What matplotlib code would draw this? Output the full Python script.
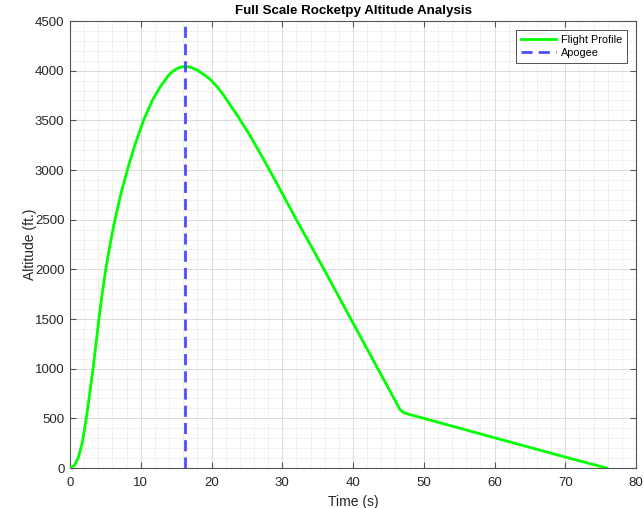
import matplotlib
matplotlib.use("Agg")
import matplotlib.pyplot as plt
from matplotlib.ticker import MultipleLocator

plt.rcParams["font.family"] = ["Liberation Sans", "DejaVu Sans"]

# flight profile (boost/coast, drogue, main)
time_s = [0, 0.6, 1.16, 1.72, 2.3, 2.79, 3.26, 3.67, 4.09, 4.51, 5.02, 5.67,
          6.37, 7.21, 8.14, 9.21, 10.47, 11.63, 12.79, 13.95, 14.5, 15.1, 15.7,
          16.3, 16.9, 17.4, 17.9, 18.8, 19.8, 20.8, 21.7, 23.6, 25.5, 27.3,
          28.2, 32.0, 35.9, 39.7, 43.5, 46.0, 46.6, 47.2, 50.0, 60.0, 70.0,
          75.85]
altitude_ft = [0, 25, 100, 250, 500, 750, 1000, 1250, 1500, 1735, 1985, 2255,
               2505, 2765, 3010, 3260, 3515, 3700, 3842, 3955, 3992, 4020, 4037,
               4043, 4037, 4024, 4008, 3968, 3913, 3838, 3755, 3555, 3340, 3115,
               3000, 2500, 2000, 1500, 1000, 675, 592, 555, 500, 305, 110, 0]

apogee_time = 16.3
apogee_alt = 4043

fig = plt.figure(figsize=(6.44, 5.08), dpi=100)
ax = fig.add_axes([0.1087, 0.0787, 0.8789, 0.8799])

ax.plot(time_s, altitude_ft, color="#00FF00", linewidth=2.0, label="Flight Profile",
        zorder=3)
ax.plot([apogee_time, apogee_time], [0, apogee_alt * 1.1], color="#4D4DFF",
        linewidth=2.0, linestyle=(0, (4, 2.2)), label="Apogee", zorder=3)

ax.set_xlim(0, 80)
ax.set_ylim(0, 4500)
ax.xaxis.set_major_locator(MultipleLocator(10))
ax.yaxis.set_major_locator(MultipleLocator(500))
ax.xaxis.set_minor_locator(MultipleLocator(2))
ax.yaxis.set_minor_locator(MultipleLocator(100))

ax.grid(which="major", color="#dcdcdc", linewidth=0.7)
ax.grid(which="minor", color="#dadada", linewidth=0.6, linestyle=(0, (1, 1.5)))
ax.set_axisbelow(True)

for sp in ax.spines.values():
    sp.set_color("#555555")
    sp.set_linewidth(0.8)
ax.tick_params(which="major", direction="in", length=4, width=0.8, color="#555555",
               labelsize=9.5, labelcolor="#262626", top=True, right=True)
ax.tick_params(which="minor", length=0, top=True, right=True)
ax.tick_params(axis="x", pad=6.5)
ax.tick_params(axis="y", pad=4)

ax.set_xlabel("Time (s)", fontsize=10, color="#262626", labelpad=4)
ax.set_ylabel("Altitude (ft.)", fontsize=10, color="#262626", labelpad=-1.5)
ax.set_title("Full Scale Rocketpy Altitude Analysis", fontsize=9.6, fontweight="bold",
             pad=5)

leg = ax.legend(loc="upper right", fontsize=7.8, fancybox=False, framealpha=1,
                edgecolor="#333333", handlelength=3.3, handletextpad=0.4,
                borderpad=0.45, labelspacing=0.25, borderaxespad=0.85)
leg.get_frame().set_linewidth(0.6)

fig.savefig("out.png", dpi=100)
